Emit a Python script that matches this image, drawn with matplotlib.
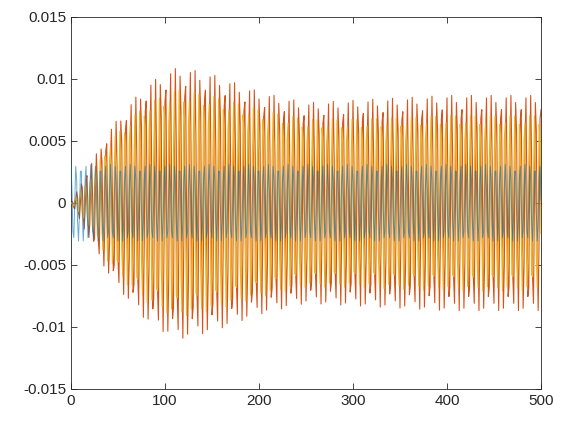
import numpy as np
import matplotlib
matplotlib.use("Agg")
import matplotlib.pyplot as plt
plt.rcParams['font.family'] = ['Liberation Sans', 'DejaVu Sans']

# envelope values
env_t = [0, 10, 20, 40, 60, 80, 100, 115, 150, 200, 250, 300, 400, 500]
amp_blue = [0.0031] * 14
amp_red = [0.0, 0.0015, 0.003, 0.0058, 0.0078, 0.0095, 0.0105, 0.011, 0.0104, 0.009, 0.0081, 0.0083, 0.0087, 0.0087]
amp_yel = [0.0, 0.001, 0.002, 0.0048, 0.0066, 0.008, 0.0088, 0.0092, 0.0087, 0.0076, 0.0068, 0.0068, 0.0071, 0.0071]
period = 5.25
phase_red = 0.6
phase_yel = 2.0

t = np.arange(0, 501, 1.0)
w = 2 * np.pi / period
blue = np.interp(t, env_t, amp_blue) * np.cos(w * t)
red = np.interp(t, env_t, amp_red) * np.sin(w * t + phase_red)
yel = np.interp(t, env_t, amp_yel) * np.sin(w * t + phase_yel)

fig = plt.figure(figsize=(5.78, 4.22), dpi=100)
ax = fig.add_axes([71/578, 1-389/422, 470/578, 372/422])
ax.plot(t, red, color='#D95319', lw=0.8, zorder=2)
ax.plot(t, yel, color='#EDB120', lw=0.8, zorder=3)
ax.plot(t, blue, color='#0072BD', lw=0.7, alpha=0.6, zorder=4)
ax.set_xlim(0, 500)
ax.set_ylim(-0.015, 0.015)
ax.set_xticks([0, 100, 200, 300, 400, 500])
ax.set_yticks([-0.015, -0.01, -0.005, 0, 0.005, 0.01, 0.015])
ax.set_yticklabels(['-0.015', '-0.01', '-0.005', '0', '0.005', '0.01', '0.015'])
for s in ax.spines.values():
    s.set_color('#262626'); s.set_linewidth(0.6)
ax.tick_params(direction='in', length=4, width=0.6, colors='#262626', labelsize=11, top=True, right=True, labeltop=False, labelright=False)
fig.savefig('out.png', dpi=100)
